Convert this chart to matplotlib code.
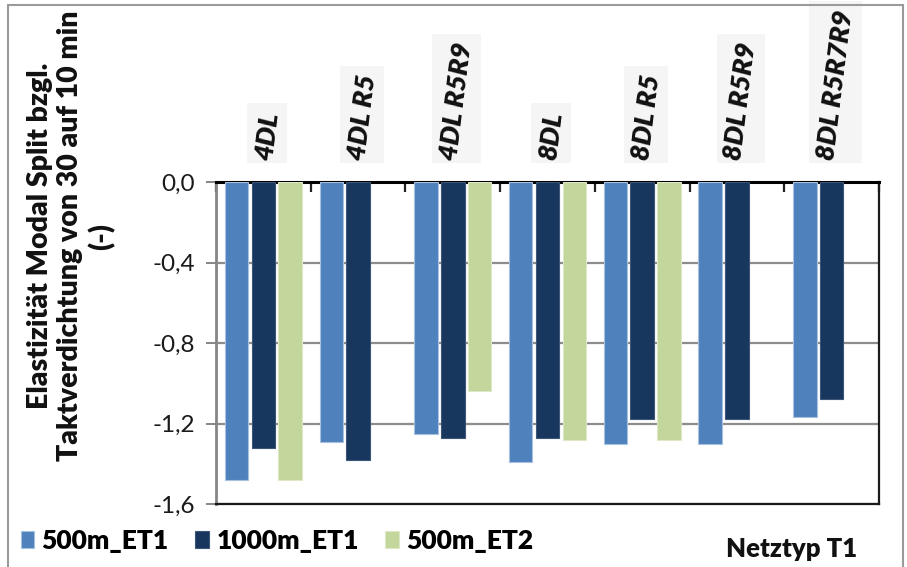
import matplotlib
matplotlib.use("Agg")
import matplotlib.pyplot as plt
from matplotlib.patches import Rectangle
from matplotlib.transforms import IdentityTransform
import numpy as np

plt.rcParams['font.family'] = ['Lato', 'DejaVu Sans']

categories = ["4DL", "4DL R5", "4DL R5R9", "8DL", "8DL R5", "8DL R5R9", "8DL R5R7R9"]
series_names = ["500m_ET1", "1000m_ET1", "500m_ET2"]
et1_500 = [-1.48, -1.29, -1.25, -1.39, -1.30, -1.30, -1.17]
et1_1000 = [-1.32, -1.38, -1.27, -1.27, -1.18, -1.18, -1.08]
et2_500 = [-1.48, np.nan, -1.04, -1.28, -1.28, np.nan, np.nan]
yticks = [0.0, -0.4, -0.8, -1.2, -1.6]
ytick_labels = ["0,0", "-0,4", "-0,8", "-1,2", "-1,6"]

colors = ["#4F81BD", "#17375E", "#C3D69B"]
edges = ["#a9c1e0", "#3d5577", "#dde8c6"]
BOLD = 800

W, H = 907, 567
fig = plt.figure(figsize=(W / 100, H / 100), dpi=100)

# plot area in pixel terms
left, right, top, bottom = 216, 879, 182, 504
ax = fig.add_axes([left / W, 1 - bottom / H, (right - left) / W, (bottom - top) / H])

x = np.arange(len(categories))
bw = 0.248
offs = [-0.283, 0.0, 0.283]
for vals, off, c, ec, name in zip([et1_500, et1_1000, et2_500], offs, colors, edges, series_names):
    ax.bar(x + off, vals, width=bw, color=c, edgecolor=ec, linewidth=0.8, label=name, zorder=3)

ax.set_xlim(-0.5, len(categories) - 0.5)
ax.set_ylim(-1.6, 0.0)
ax.set_yticks(yticks)
ax.set_yticklabels(ytick_labels)
ax.tick_params(axis='y', direction='out', length=7, width=1.4, color='#868686',
               labelsize=17.5, pad=8, labelcolor='#1a1a1a')

# category axis at the top (value 0) with inner ticks at group borders
ax.xaxis.set_ticks_position('top')
ax.set_xticks(np.arange(-0.5, len(categories), 1.0))
ax.tick_params(axis='x', direction='in', length=7, width=1.6, color='#222222',
               labeltop=False, labelbottom=False)

ax.set_axisbelow(True)
ax.yaxis.grid(True, color='#8c8c8c', linewidth=1.6)
ax.xaxis.grid(False)

ax.spines['left'].set_color('#868686')
ax.spines['left'].set_linewidth(2.0)
ax.spines['top'].set_color('#000000')
ax.spines['top'].set_linewidth(2.2)
ax.spines['bottom'].set_color('#1a1a1a')
ax.spines['bottom'].set_linewidth(1.6)
ax.spines['right'].set_color('#1a1a1a')
ax.spines['right'].set_linewidth(1.6)

# slanted category labels above the plot area
cat_texts = []
for i, name in enumerate(categories):
    t = ax.annotate(name, xy=(i + 0.04, 1.0), xycoords=('data', 'axes fraction'),
                    xytext=(0, 15), textcoords='offset points',
                    ha='center', va='bottom', rotation=83,
                    fontsize=19.5, fontweight=BOLD, fontstyle='italic', color='#111111',
                    zorder=5, annotation_clip=False)
    cat_texts.append(t)

fig.canvas.draw()
renderer = fig.canvas.get_renderer()
for t in cat_texts:
    bb = t.get_window_extent(renderer)
    pad = 5
    r = Rectangle((bb.x0 - pad, bb.y0 - 2), bb.width + 2 * pad, bb.height + pad + 4,
                  transform=IdentityTransform(), facecolor='#f5f5f5', edgecolor='none',
                  zorder=1, clip_on=False)
    ax.add_patch(r)

# value axis title
fig.text(71 / W, 1 - 236 / H,
         "Elastizität Modal Split bzgl.\nTaktverdichtung von 30 auf 10 min\n(-)",
         rotation=90, ha='center', va='center', multialignment='center',
         fontsize=20.5, fontweight=BOLD, linespacing=1.2, color='#111111')

# legend along the bottom
handles, labels = ax.get_legend_handles_labels()
fig.legend(handles, labels, loc='center left', bbox_to_anchor=(10 / W, 1 - 541 / H),
           ncol=3, frameon=False, prop={'weight': BOLD, 'size': 19},
           handlelength=0.5, handleheight=0.6, handletextpad=0.3, columnspacing=1.0,
           borderaxespad=0)

fig.text(792 / W, 1 - 549 / H, "Netztyp T1", ha='center', va='center',
         fontsize=18.5, fontweight=BOLD, color='#111111')

# outer chart frame
frame = Rectangle((8, -20), 895, H - 5 + 20, transform=None, fill=False,
                  edgecolor='#9a9a9a', linewidth=1.5, zorder=0)
fig.patches.append(frame)

fig.savefig("out.png", dpi=100)
